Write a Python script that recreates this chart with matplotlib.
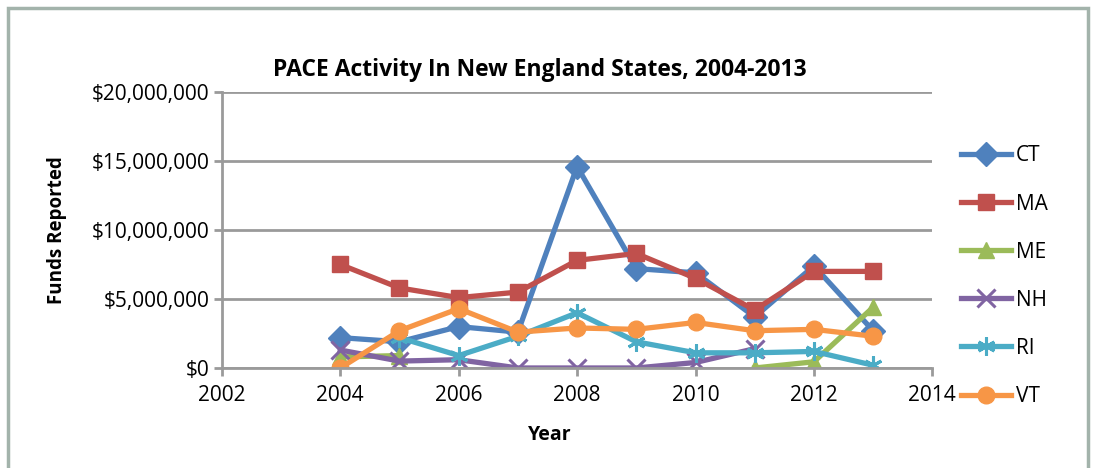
import matplotlib
matplotlib.use("Agg")
import matplotlib.pyplot as plt
import matplotlib.patches as patches
import numpy as np

plt.rcParams['font.family'] = ['Open Sans', 'DejaVu Sans']

years = [2004, 2005, 2006, 2007, 2008, 2009, 2010, 2011, 2012, 2013]

# values in dollars, None = no report that year
ct = [2.2e6, 1.9e6, 3.0e6, 2.6e6, 14.6e6, 7.2e6, 6.9e6, 3.7e6, 7.4e6, 2.7e6]
ma = [7.5e6, 5.8e6, 5.1e6, 5.5e6, 7.8e6, 8.3e6, 6.5e6, 4.2e6, 7.0e6, 7.0e6]
me = [0.8e6, 0.9e6, None, None, None, None, None, 0.0, 0.45e6, 4.4e6]
nh = [1.3e6, 0.5e6, 0.6e6, 0.0, 0.0, 0.0, 0.4e6, 1.4e6, None, None]
ri = [None, 2.2e6, 0.9e6, 2.3e6, 4.0e6, 1.9e6, 1.1e6, 1.1e6, 1.2e6, 0.2e6]
vt = [0.0, 2.7e6, 4.3e6, 2.6e6, 2.9e6, 2.8e6, 3.3e6, 2.7e6, 2.8e6, 2.3e6]

series = [
    ("CT", ct, "#4F81BD", "D"),
    ("MA", ma, "#C0504D", "s"),
    ("ME", me, "#9BBB59", "^"),
    ("NH", nh, "#8064A2", "x"),
    ("RI", ri, "#4BACC6", (6, 2, 0)),
    ("VT", vt, "#F79646", "o"),
]

fig = plt.figure(figsize=(10.93, 4.68), dpi=100)
ax = fig.add_axes([0.203, 0.2137, 0.65, 0.5897])

for name, vals, col, mk in series:
    y = np.array([np.nan if v is None else v for v in vals], dtype=float)
    thin = mk in ("x", (6, 2, 0))
    ax.plot(years, y, color=col, lw=3.8, marker=mk,
            markersize=13 if thin else 12,
            markeredgewidth=2.2 if thin else 1,
            markeredgecolor=col, label=name)

ax.set_xlim(2002, 2014)
ax.set_ylim(0, 20e6)
ax.set_xticks(range(2002, 2015, 2))
ax.set_yticks(np.arange(0, 20e6 + 1, 5e6))
ax.yaxis.set_major_formatter(matplotlib.ticker.FuncFormatter(lambda v, p: "${:,.0f}".format(v)))
ax.grid(axis='y', color='#9a9a9a', lw=2)
ax.set_axisbelow(True)
for s in ['top', 'right']:
    ax.spines[s].set_visible(False)
for s in ['bottom', 'left']:
    ax.spines[s].set_color('#9a9a9a')
    ax.spines[s].set_linewidth(2)
ax.tick_params(axis='both', direction='out', length=6, width=2, color='#9a9a9a', labelsize=15)
ax.tick_params(axis='x', pad=6)
ax.tick_params(axis='y', pad=3)

# title is centred over the whole chart area, not the plot
fig.text(0.494, 0.85, "PACE Activity In New England States, 2004-2013", fontsize=16.5,
         fontweight='bold', ha='center', va='center')
ax.set_xlabel("Year", fontsize=14, fontweight='bold', labelpad=16)
ax.xaxis.set_label_coords(0.461, -0.205)
ax.set_ylabel("Funds Reported", fontsize=13.5, fontweight='bold', labelpad=18)

fig.legend(loc='upper left', bbox_to_anchor=(0.872, 0.707), frameon=False,
           fontsize=15, labelspacing=1.3, handlelength=2.4, handletextpad=0.2,
           borderaxespad=0)

border = patches.Rectangle((0.007, -0.05), 0.988, 1.033, transform=fig.transFigure,
                           fill=False, edgecolor='#a3b3ab', lw=2.5, clip_on=False)
fig.patches.append(border)

fig.savefig("out.png", dpi=100)
